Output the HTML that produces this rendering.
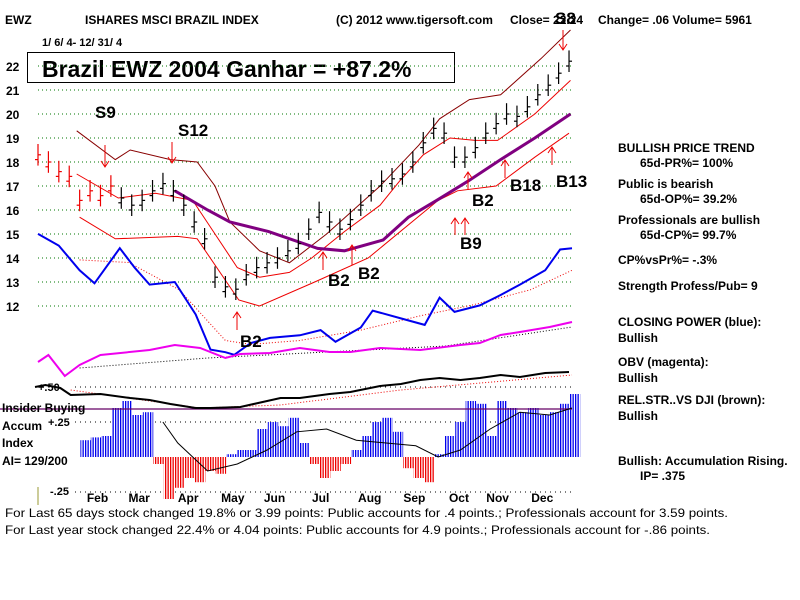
<!DOCTYPE html>
<html><head><meta charset="utf-8"><style>
body{margin:0;background:#fff;}
svg{display:block;font-family:"Liberation Sans",sans-serif;font-weight:bold;}
</style></head><body>
<svg id="chart" width="800" height="600" viewBox="0 0 800 600" xmlns="http://www.w3.org/2000/svg">
<defs>
<pattern id="blueStripe" width="2.5" height="4" patternUnits="userSpaceOnUse"><rect width="1.3" height="4" fill="#0000ee"/></pattern>
<pattern id="redStripe" width="2.5" height="4" patternUnits="userSpaceOnUse"><rect width="1.3" height="4" fill="#ee0000"/></pattern>
</defs>
<g font-size="12">
<text x="5" y="24">EWZ</text>
<text x="85" y="24">ISHARES MSCI BRAZIL INDEX</text>
<text x="336" y="24">(C) 2012 www.tigersoft.com</text>
<text x="510" y="24">Close=  22.24</text>
<text x="598" y="24">Change= .06 Volume= 5961</text>
<text x="42" y="46" font-size="11">1/ 6/ 4- 12/ 31/ 4</text>
</g>
<rect x="27.5" y="52.5" width="427" height="30" fill="#fff" stroke="#000"/>
<text x="42" y="77" font-size="23">Brazil EWZ 2004 Ganhar = +87.2%</text>
<g id="grid"></g>
<g id="yticks" font-size="12"></g>
<g id="series"></g>
<g id="signals" font-size="17"></g>
<g font-size="12">
<text x="2" y="412">Insider Buying</text>
<text x="2" y="430">Accum</text>
<text x="2" y="447">Index</text>
<text x="2" y="465">AI= 129/200</text>
<text x="48" y="426" font-size="11">+.25</text>
<text x="38" y="391" font-size="11">+.50</text>
<text x="50" y="495" font-size="11">-.25</text>
<line x1="38" y1="487" x2="38" y2="505" stroke="#999933"/>
</g>
<g id="months" font-size="12"></g>
<g font-size="12">
<text x="618" y="152">BULLISH PRICE TREND</text>
<text x="640" y="167">65d-PR%= 100%</text>
<text x="618" y="188">Public is bearish</text>
<text x="640" y="203">65d-OP%= 39.2%</text>
<text x="618" y="224">Professionals are bullish</text>
<text x="640" y="239">65d-CP%= 99.7%</text>
<text x="618" y="264">CP%vsPr%= -.3%</text>
<text x="618" y="290">Strength Profess/Pub= 9</text>
<text x="618" y="326">CLOSING POWER (blue):</text>
<text x="618" y="342">Bullish</text>
<text x="618" y="366">OBV (magenta):</text>
<text x="618" y="382">Bullish</text>
<text x="618" y="404">REL.STR..VS DJI (brown):</text>
<text x="618" y="420">Bullish</text>
<text x="618" y="465">Bullish: Accumulation Rising.</text>
<text x="640" y="480">IP=  .375</text>
</g>
<g font-size="12" font-weight="normal" style="font-weight:normal">
<text x="5" y="517" textLength="723" lengthAdjust="spacingAndGlyphs">For Last 65 days stock changed  19.8% or  3.99 points:  Public accounts for  .4 points.;  Professionals account for  3.59 points.</text>
<text x="5" y="534" textLength="705" lengthAdjust="spacingAndGlyphs">For Last year stock changed  22.4% or  4.04 points:  Public accounts for  4.9 points.;  Professionals account for -.86 points.</text>
</g>
</svg>
<script>
const priceTicks=[12,13,14,15,16,17,18,19,20,21,22];
const monthLabels=["Feb","Mar","Apr","May","Jun","Jul","Aug","Sep","Oct","Nov","Dec"];
const monthDoy=[46,74,107,137,165,196,229,259,289,315,345];
const closes=[18.3,18.0,17.6,17.4, 16.4,16.8,16.6,17.0, 16.5,16.2,16.4,16.8,17.1, 16.8,16.2,15.5,14.8, 13.2,12.8,12.7,13.3,13.6, 13.8,14.0,14.3,14.6, 15.2,15.9,15.5,15.2, 15.6,16.2,16.8,17.2,17.3, 17.5,18.0,18.8,19.4, 19.2,18.2,18.2,18.6, 19.2,19.6,20.0,19.9,20.3, 20.8,21.2,21.7,22.2];
const upperDoy=[32,58,68,95,113,125,135,155,175,200,236,262,276,296,317,344,364];
const upperVal=[19.3,18.1,18.5,18.1,18.0,17.0,15.5,14.3,13.8,15.0,17.0,18.7,19.8,20.6,20.8,22.3,23.5];
const innerDoy=[32,60,85,110,125,140,155,175,190,212,236,249,265,283,300,315,340,364];
const innerVal=[17.5,16.5,16.7,16.4,15.0,13.6,13.2,13.4,14.0,15.1,16.2,17.2,18.3,19.0,18.9,18.9,20.0,21.4];
const lowerDoy=[34,58,100,113,141,155,192,228,275,288,314,340,363];
const lowerVal=[15.7,14.8,14.9,14.8,12.25,12.0,13.0,14.0,16.4,16.8,17.0,18.2,19.2];
const maDoy=[98,120,135,161,194,212,238,255,274,295,317,340,364];
const maVal=[16.8,16.0,15.5,15.1,14.4,14.3,14.75,15.7,16.4,17.2,18.1,19.0,20.0];
const cpDoy=[6,20,34,44,61,71,81,98,112,122,132,138,149,162,182,196,206,223,231,250,266,276,286,303,317,330,347,357,365];
const cpVal=[97,88,69,59,86,71,58,60,35,8,6,4,13,17,19,23,14,25,38,32,27,48,37,42,50,58,69,85,86];
const cpMaDoy=[34,67,101,132,149,182,223,263,297,337,365];
const cpMaVal=[77,75,54,15,12,15,23,34,42,54,69];
const obvDoy=[6,13,24,34,48,81,98,115,132,142,162,182,202,216,236,263,290,303,317,330,350,365];
const obvVal=[18,25,4,15,25,30,35,32,22,26,27,32,28,28,32,30,35,37,45,48,53,58];
const obvMaDoy=[34,120,200,280,365];
const obvMaVal=[12,22,28,34,53];
const rsDoy=[4,11,21,28,48,68,81,95,112,122,142,169,182,202,216,236,250,263,276,290,303,317,330,347,363];
const rsVal=[23,25,22,15,16,12,10,6,2,2,3,12,12,16,18,24,26,30,32,30,32,35,33,37,38];
const rsMaDoy=[28,115,169,250,365];
const rsMaVal=[20,2,5,20,35];
const aiVal=[.12,.14,.15,.35,.40,.30,.32,-.05,-.30,-.22,-.15,-.18,-.10,-.12,.02,.05,.05,.20,.25,.22,.28,.10,-.05,-.15,-.10,-.05,.05,.15,.25,.28,.18,-.08,-.15,-.18,.02,.15,.25,.40,.38,.15,.40,.35,.32,.35,.30,.32,.38,.45];
const aiMaDoy=[90,100,120,140,160,180,200,220,240,260,275,290,310,330,350,365];
const aiMaVal=[.25,.1,-.1,-.05,.05,.18,.2,.12,.1,.08,0,.05,.2,.32,.3,.35];

const NS="http://www.w3.org/2000/svg";
const X=d=>38+(d-6)*534/359;
const Y=v=>306-(v-12)*24;
const CPY=v=>360-v*1.3;
const OBVY=v=>380-v;
const RSY=v=>410-v;
const AIY=v=>457-v*140;
function mk(tag,attrs,parent){const e=document.createElementNS(NS,tag);for(const k in attrs)e.setAttribute(k,attrs[k]);parent.appendChild(e);return e;}
const grid=document.getElementById('grid'),yt=document.getElementById('yticks'),ser=document.getElementById('series'),sig=document.getElementById('signals'),mon=document.getElementById('months');
priceTicks.forEach(t=>{
  const l=mk('line',{x1:38,x2:572,y1:Y(t),y2:Y(t),stroke:'#007700','stroke-dasharray':'1 3'},grid);
  
  
  const tx=mk('text',{x:6,y:Y(t)+5},yt);tx.textContent=t;
  
  
});
[.5,.25,-.25].forEach(v=>{const l=mk('line',{x1:75,x2:572,y1:AIY(v),y2:AIY(v),stroke:'#000','stroke-dasharray':'1 4'},grid);
  
  });
monthLabels.forEach((m,i)=>{const t=mk('text',{x:X(monthDoy[i]),y:502,'text-anchor':'middle'},mon);t.textContent=m;
  
  });
function poly(dx,vs,fy,st,w,dash,name){
  const pts=dx.map((d,i)=>X(d).toFixed(1)+','+fy(vs[i]).toFixed(1)).join(' ');
  const p=mk('polyline',{points:pts,fill:'none',stroke:st,'stroke-width':w},ser);
  if(dash)p.setAttribute('stroke-dasharray',dash);
  
  
}
const bw=534/359*7;
aiVal.forEach((v,i)=>{const d=38+i*7;const x=X(d)-bw/2;
  const r=mk('rect',{x:x,width:bw,y:Math.min(AIY(v),AIY(0)),height:Math.abs(AIY(v)-AIY(0)),fill:v>=0?'url(#blueStripe)':'url(#redStripe)'},ser);
  
  });
const il=mk('line',{x1:0,x2:572,y1:409,y2:409,stroke:'#660066','stroke-width':1.2},ser);


poly(aiMaDoy,aiMaVal,AIY,'#000',1,null,'ai-moving-average');
poly(upperDoy,upperVal,Y,'#880000',1,null,'upper-band');
poly(innerDoy,innerVal,Y,'#ee0000',1,null,'inner-band');
poly(lowerDoy,lowerVal,Y,'#ee0000',1,null,'lower-band');
poly(maDoy,maVal,Y,'#800080',3,null,'moving-average');
poly(cpMaDoy,cpMaVal,CPY,'#ee0000',1,'1 2','closing-power-ma');
poly(obvMaDoy,obvMaVal,OBVY,'#000',1,'1 2','obv-ma');
poly(rsMaDoy,rsMaVal,RSY,'#ee0000',1,'1 2','rel-strength-ma');
poly(cpDoy,cpVal,CPY,'#0000ee',2,null,'closing-power-line');
poly(obvDoy,obvVal,OBVY,'#ee00ee',2,null,'obv-line');
poly(rsDoy,rsVal,RSY,'#000',2,null,'rel-strength-line');
closes.forEach((c,i)=>{const d=6+i*7;const x=X(d);const col=i<8?'#ee0000':'#000';
  const g=mk('g',{stroke:col,'stroke-width':1.2},ser);
  
  
  mk('line',{x1:x,x2:x,y1:Y(c+0.45),y2:Y(c-0.45)},g);
  mk('line',{x1:x,x2:x+3,y1:Y(c),y2:Y(c)},g);
  mk('line',{x1:x-3,x2:x,y1:Y(c-0.2),y2:Y(c-0.2)},g);
});
const sigs=[["S9",95,118,105,145,167,-1],["S12",178,136,172,142,163,-1],["B2",240,347,237,330,312,1],["B2",328,286,323,270,252,1],["B2",358,279,352,265,245,1],["B2",472,206,468,190,172,1],["B9",460,249,455,235,218,1],["B9",null,0,465,235,218,1],["B18",510,191,505,178,160,1],["B13",556,187,552,165,147,1],["S8",555,24,563,30,50,-1]];
sigs.forEach(s=>{
  if(s[1]!==null){const t=mk('text',{x:s[1],y:s[2]},sig);t.textContent=s[0];
    
    }
  const g=mk('g',{stroke:'#ee0000','stroke-width':1,fill:'none'},sig);
  
  
  mk('line',{x1:s[3],x2:s[3],y1:s[4],y2:s[5]},g);
  const dir=s[6];mk('polyline',{points:`${s[3]-4},${s[5]+dir*6} ${s[3]},${s[5]} ${s[3]+4},${s[5]+dir*6}`},g);
});
</script>
</body></html>
